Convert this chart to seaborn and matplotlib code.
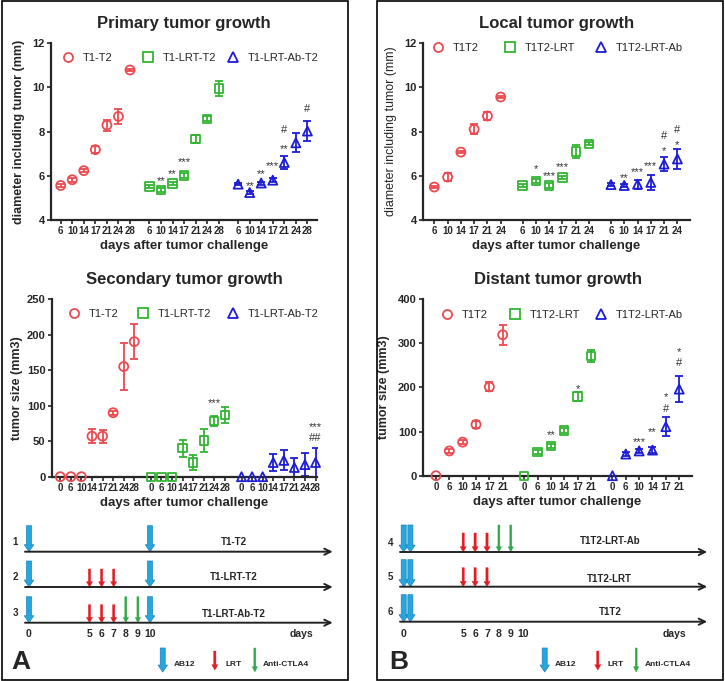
import numpy as np
import pandas as pd
import matplotlib
matplotlib.use("Agg")
import matplotlib.pyplot as plt
import matplotlib.transforms as mtransforms
from matplotlib.patches import FancyArrowPatch, Rectangle
from matplotlib.lines import Line2D
from matplotlib.legend import Legend
import seaborn as sns

sns.set_style("ticks")
plt.rcParams["font.family"] = ["Liberation Sans", "DejaVu Sans"]

W, H = 725, 681
RED, GREEN, BLUE = "#ec4a50", "#33b533", "#1c1cd6"

# ---------------- data ----------------
# Panel A, primary tumour (diameter, mm)
primary_days = [6, 10, 14, 17, 21, 24, 28]
primary_labels = ["T1-T2", "T1-LRT-T2", "T1-LRT-Ab-T2"]
primary_t1t2_mean = [5.56, 5.82, 6.23, 7.18, 8.29, 8.68, 10.78]
primary_t1t2_sem = [0.06, 0.08, 0.08, 0.17, 0.25, 0.35, 0.05]
primary_lrt_mean = [5.52, 5.36, 5.65, 6.01, 7.65, 8.58, 9.95]
primary_lrt_sem = [0.08, 0.08, 0.08, 0.10, 0.17, 0.12, 0.35]
primary_ab_mean = [5.62, 5.24, 5.67, 5.80, 6.60, 7.49, 8.02]
primary_ab_sem = [0.05, 0.07, 0.07, 0.08, 0.28, 0.42, 0.45]
primary_marks = [(1, 1, "**", 5.95), (1, 2, "**", 6.23), (1, 3, "***", 6.79),
                 (2, 1, "**", 5.71), (2, 2, "**", 6.23), (2, 3, "***", 6.62),
                 (2, 4, "**", 7.38), (2, 4, "#", 8.09), (2, 6, "#", 9.0)]

# Panel A, secondary tumour (mm3)
secondary_days = [0, 6, 10, 14, 17, 21, 24, 28]
secondary_t1t2_mean = [0, 0, 0, 57, 57, 90, 155, 190]
secondary_t1t2_sem = [0, 0, 0, 10, 9, 3, 33, 25]
secondary_lrt_mean = [0, 0, 0, 40, 20, 51, 78, 87]
secondary_lrt_sem = [0, 0, 0, 12, 11, 16, 7, 11]
secondary_ab_mean = [0, 0, 0, 20, 23, 13, 17, 20]
secondary_ab_sem = [0, 0, 0, 12, 14, 14, 16, 20]
secondary_marks = [(1, 6, "***", 109), (2, 7, "***", 75), (2, 7, "##", 55)]

# Panel B, local tumour (diameter, mm)
local_days = [6, 10, 14, 17, 21, 24]
local_labels = ["T1T2", "T1T2-LRT", "T1T2-LRT-Ab"]
local_t1t2_mean = [5.49, 5.94, 7.07, 8.10, 8.70, 9.56]
local_t1t2_sem = [0.05, 0.17, 0.05, 0.22, 0.20, 0.05]
local_lrt_mean = [5.56, 5.77, 5.56, 5.92, 7.10, 7.44]
local_lrt_sem = [0.05, 0.10, 0.13, 0.07, 0.30, 0.07]
local_ab_mean = [5.60, 5.56, 5.62, 5.70, 6.53, 6.76]
local_ab_sem = [0.07, 0.07, 0.20, 0.35, 0.30, 0.47]
local_marks = [(1, 1, "*", 6.47), (1, 2, "***", 6.17), (1, 3, "***", 6.59),
               (2, 1, "**", 6.06), (2, 2, "***", 6.33), (2, 3, "***", 6.62),
               (2, 4, "*", 7.29), (2, 4, "#", 7.79), (2, 5, "*", 7.56), (2, 5, "#", 8.05)]

# Panel B, distant tumour (mm3)
distant_days = [0, 6, 10, 14, 17, 21]
distant_t1t2_mean = [0, 56, 76, 116, 201, 319]
distant_t1t2_sem = [0, 4, 4, 8, 10, 22]
distant_lrt_mean = [0, 53, 67, 102, 179, 271]
distant_lrt_sem = [0, 5, 5, 6, 10, 13]
distant_ab_mean = [0, 49, 56, 58, 111, 196]
distant_ab_sem = [0, 5, 5, 7, 22, 30]
distant_marks = [(1, 2, "**", 101), (1, 4, "*", 205),
                 (2, 2, "***", 85), (2, 3, "**", 107), (2, 4, "#", 150), (2, 4, "*", 187),
                 (2, 5, "#", 255), (2, 5, "*", 289)]

# treatment schedules (days)
ab12_days_A = [0, 10]
ab12_days_B = [0, 0]
lrt_days = [5, 6, 7]
ctla4_days = [8, 9]
schedule_ticks = [0, 5, 6, 7, 8, 9, 10]

COLORS = [RED, GREEN, BLUE]
MARKERS = ["o", "s", "^"]

fig = plt.figure(figsize=(W / 100, H / 100), dpi=100)


def px_axes(l, t, r, b):
    return fig.add_axes([l / W, 1 - b / H, (r - l) / W, (b - t) / H])


def draw_chart(ax, days, gap, labels, means, sems, marks, ylim, yticks, xlim,
               title, ylabel, ylw, ylpad, legend_x, legend_y):
    frames = []
    for g, (m, s) in enumerate(zip(means, sems)):
        frames.append(pd.DataFrame({"pos": g * gap + np.arange(len(m)),
                                    "value": m, "sem": s, "group": labels[g]}))
    df = pd.concat(frames, ignore_index=True)
    for g, lab in enumerate(labels):
        d = df[df["group"] == lab]
        ax.errorbar(d["pos"], d["value"], yerr=d["sem"], fmt="none",
                    ecolor=COLORS[g], elinewidth=1.3, capsize=2.6, capthick=1.3, zorder=2)
        sns.scatterplot(data=d, x="pos", y="value", ax=ax, marker=MARKERS[g],
                        s=42 if MARKERS[g] != "s" else 36, color=COLORS[g],
                        facecolor="none", edgecolor=COLORS[g], linewidth=1.3,
                        zorder=3, legend=False, clip_on=False)
    for g, i, txt, yv in marks:
        off = -2.8 if "*" in txt else 0
        ax.annotate(txt, (g * gap + i, yv), xytext=(0, off), textcoords="offset points",
                    ha="center", va="center", fontsize=8, color="#333333")
    ax.set_xlim(*xlim)
    ax.set_ylim(*ylim)
    ax.set_yticks(yticks)
    ticks = np.concatenate([g * gap + np.arange(len(days)) for g in range(3)])
    ax.set_xticks(ticks)
    ax.set_xticklabels([str(d) for d in days] * 3)
    ax.tick_params(axis="x", labelsize=7, length=3, width=1.2, pad=1.5)
    ax.tick_params(axis="y", labelsize=8, length=3, width=1.2, pad=1.5)
    for t in ax.get_xticklabels() + ax.get_yticklabels():
        t.set_fontweight("bold")
    sns.despine(ax=ax)
    for sp in ("left", "bottom"):
        ax.spines[sp].set_linewidth(1.6)
    ax.set_xlabel("days after tumor challenge", fontsize=9.5, fontweight="bold", labelpad=3)
    ax.set_ylabel(ylabel, fontsize=9, fontweight=ylw, labelpad=ylpad)
    ax.set_title(title, fontsize=12, fontweight="bold", pad=11)
    # legend entries, one small legend per group
    fs = 8
    fs_px = fs * 100 / 72
    ax_w = ax.get_position().width * W
    for g, lab in enumerate(labels):
        h = Line2D([], [], marker=MARKERS[g], ls="none", mfc="none", mec=COLORS[g],
                   mew=1.3, ms=6.5)
        left = legend_x[g] - 0.5 * fs_px / ax_w
        leg = Legend(ax, [h], [lab], loc="center left", bbox_to_anchor=(left, legend_y),
                     frameon=False, fontsize=fs, handlelength=1.0,
                     handletextpad=15 / fs_px - 0.5, borderpad=0, borderaxespad=0)
        ax.add_artist(leg)


ax1 = px_axes(51, 43, 317, 220)
draw_chart(ax1, primary_days, 7.68, primary_labels,
           [primary_t1t2_mean, primary_lrt_mean, primary_ab_mean],
           [primary_t1t2_sem, primary_lrt_sem, primary_ab_sem], primary_marks,
           (4, 12), [4, 6, 8, 10, 12], (-0.84, 22.19),
           "Primary tumor growth", "diameter including tumor (mm)", "bold", 5,
           [0.064, 0.363, 0.684], 0.915)

ax2 = px_axes(51.7, 299, 317, 476.7)
draw_chart(ax2, secondary_days, 8.57, primary_labels,
           [secondary_t1t2_mean, secondary_lrt_mean, secondary_ab_mean],
           [secondary_t1t2_sem, secondary_lrt_sem, secondary_ab_sem], secondary_marks,
           (0, 250), [0, 50, 100, 150, 200, 250], (-0.81, 24.28),
           "Secondary tumor growth", "tumor size (mm3)", "bold", 3,
           [0.084, 0.345, 0.684], 0.916)

ax3 = px_axes(423, 43, 690, 220)
draw_chart(ax3, local_days, 6.65, local_labels,
           [local_t1t2_mean, local_lrt_mean, local_ab_mean],
           [local_t1t2_sem, local_lrt_sem, local_ab_sem], local_marks,
           (4, 12), [4, 6, 8, 10, 12], (-0.85, 19.25),
           "Local tumor growth", "diameter including tumor (mm)", "normal", 5,
           [0.056, 0.326, 0.667], 0.972)

ax4 = px_axes(423, 299, 692, 475.7)
draw_chart(ax4, distant_days, 6.61, local_labels,
           [distant_t1t2_mean, distant_lrt_mean, distant_ab_mean],
           [distant_t1t2_sem, distant_lrt_sem, distant_ab_sem], distant_marks,
           (0, 400), [0, 100, 200, 300, 400], (-0.97, 19.18),
           "Distant tumor growth", "tumor size (mm3)", "bold", 6,
           [0.089, 0.342, 0.662], 0.909)

# ---------------- treatment timelines ----------------
ARROW = {
    "ab12": dict(style="simple,head_length=5,head_width=6.8,tail_width=3.6",
                 fc="#27a6de", ec="#1b82bd", lw=0.5),
    "lrt": dict(style="simple,head_length=3.8,head_width=4.4,tail_width=1.6",
                fc="#e31b23", ec="#e31b23", lw=0.3),
    "ctla4": dict(style="simple,head_length=3.8,head_width=3.8,tail_width=1.4",
                  fc="#2ea84a", ec="#2ea84a", lw=0.3),
}


def arrow(ax, x, y0, y1, kind, transform=None):
    p = ARROW[kind]
    a = FancyArrowPatch((x, y0), (x, y1), arrowstyle=p["style"], mutation_scale=1,
                        fc=p["fc"], ec=p["ec"], lw=p["lw"], shrinkA=0, shrinkB=0,
                        transform=transform if transform is not None else ax.transData,
                        clip_on=False)
    ax.add_patch(a)


def timeline(l, r, day0_px, px_per_day, rows, line_end, legend_fx, letter, letter_x,
             num_x, name_x, days_x):
    ax = px_axes(l, 500, r, 678)
    ax.set_xlim((l - day0_px) / px_per_day, (r - day0_px) / px_per_day)
    ax.set_ylim(678, 500)
    ax.axis("off")
    blend = mtransforms.blended_transform_factory(ax.transAxes, ax.transData)
    for num, name, y, name_y, ab12, lrt, ctla, hb, hr, hg, ab_off in rows:
        ax.annotate("", xy=(line_end[1], y), xytext=(line_end[0], y),
                    arrowprops=dict(arrowstyle="->,head_length=0.45,head_width=0.22",
                                    lw=1.4, color="#222222", shrinkA=0, shrinkB=0))
        for k, d in enumerate(ab12):
            arrow(ax, d + k * ab_off, y - hb, y, "ab12")
        for d in lrt:
            arrow(ax, d, y - hr, y, "lrt")
        for d in ctla:
            arrow(ax, d, y - hg, y, "ctla4")
        ax.text(num_x, y - 9.5, num, transform=blend, ha="center", va="center",
                fontsize=7, fontweight="bold")
        ax.text(name_x, name_y, name, transform=blend, ha="center", va="center",
                fontsize=7, fontweight="bold")
    for d in schedule_ticks:
        ax.text(d, 634, str(d), ha="center", va="center", fontsize=7.5, fontweight="bold")
    ax.text(days_x, 634, "days", transform=blend, ha="center", va="center",
            fontsize=7.5, fontweight="bold")
    ax.text(letter_x, 662, letter, transform=blend, ha="center", va="center",
            fontsize=19, fontweight="bold")
    (bx, btx), (rx, rtx), (gx, gtx) = legend_fx
    arrow(ax, bx, 648, 672, "ab12", transform=blend)
    arrow(ax, rx, 651, 670, "lrt", transform=blend)
    arrow(ax, gx, 648, 672, "ctla4", transform=blend)
    for x, t in ((btx, "AB12"), (rtx, "LRT"), (gtx, "Anti-CTLA4")):
        ax.text(x, 665, t, transform=blend, ha="left", va="center", fontsize=6,
                fontweight="bold")


timeline(3, 348, 29, 12.1,
         [("1", "T1-T2", 551.7, 541.7, ab12_days_A, [], [], 26, 18, 26, 0),
          ("2", "T1-LRT-T2", 587, 577, ab12_days_A, lrt_days, [], 26, 18, 26, 0),
          ("3", "T1-LRT-Ab-T2", 622.7, 614, ab12_days_A, lrt_days, ctla4_days, 26, 18, 26, 0)],
         (-0.33, 25.1), [(0.463, 0.494), (0.614, 0.646), (0.730, 0.754)],
         "A", 0.052, 0.035, 0.67, 0.864)

timeline(377, 723, 403.7, 11.9,
         [("4", "T1T2-LRT-Ab", 552, 541, ab12_days_B, lrt_days, ctla4_days, 27, 19, 27, 0.56),
          ("5", "T1T2-LRT", 586.7, 579, ab12_days_B, lrt_days, [], 27, 19, 27, 0.56),
          ("6", "T1T2", 621.7, 611.7, ab12_days_B, [], [], 27, 19, 27, 0.56)],
         (-0.31, 25.5), [(0.4847, 0.515), (0.638, 0.667), (0.749, 0.775)],
         "B", 0.063, 0.04, 0.673, 0.861)

# panel frames
for l, r in ((2, 348), (377, 723)):
    fig.add_artist(Rectangle((l / W, 1 - 680 / H), (r - l) / W, 679 / H,
                             transform=fig.transFigure, fill=False, lw=1.2, ec="black"))

fig.savefig("out.png", dpi=100)
